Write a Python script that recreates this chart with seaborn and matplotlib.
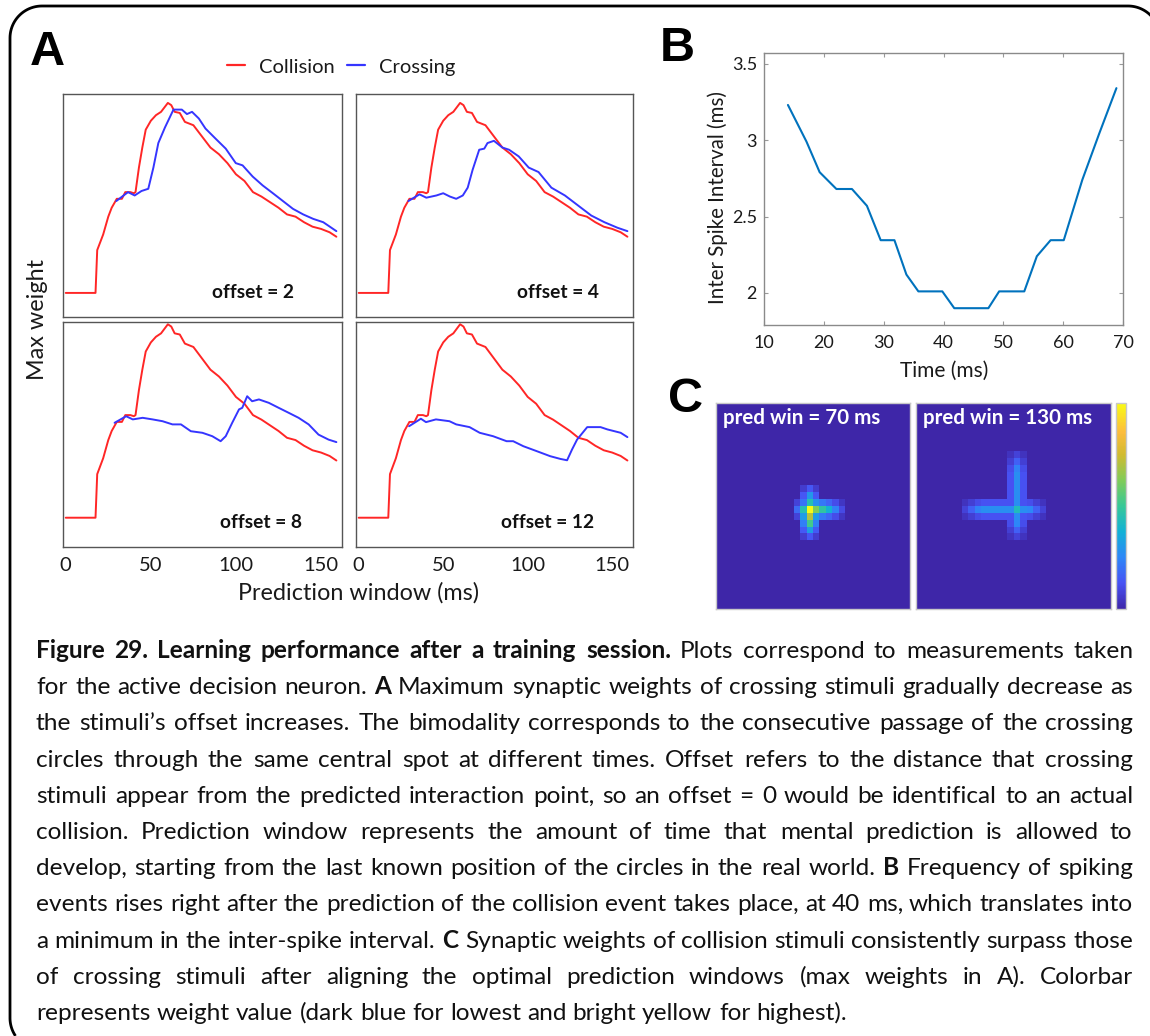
import numpy as np
import pandas as pd
import matplotlib
matplotlib.use("Agg")
import matplotlib.pyplot as plt
from matplotlib.colors import LinearSegmentedColormap, Normalize
from matplotlib.cm import ScalarMappable
from matplotlib.lines import Line2D
import seaborn as sns

# ---------------- Panel A: max synaptic weight vs prediction window ----------------
collision_t = [0, 17.5, 18.5, 20, 22, 25, 27, 30, 33, 35, 38, 40, 41, 43, 45, 47, 50, 53, 56, 60,
               62, 64, 67, 70, 75, 80, 85, 90, 95, 100, 105, 110, 115, 120, 125, 130, 135, 140,
               145, 150, 155, 159]
collision_w = [0.108, 0.108, 0.30, 0.33, 0.37, 0.45, 0.49, 0.53, 0.53, 0.56, 0.56, 0.555, 0.56,
               0.67, 0.76, 0.84, 0.88, 0.905, 0.92, 0.96, 0.95, 0.92, 0.915, 0.875, 0.86, 0.81,
               0.76, 0.73, 0.69, 0.64, 0.61, 0.56, 0.54, 0.515, 0.49, 0.46, 0.45, 0.425, 0.405,
               0.395, 0.38, 0.36]

crossing2_t = [29.7, 36.6, 40.5, 44.5, 48.5, 51.5, 54.4, 58.3, 63.3, 68.2, 71.2, 74.2, 78.2, 82.1,
               88, 94, 99.9, 103.9, 109.8, 115.7, 121.7, 127.6, 133.5, 139.5, 145.4, 151.3, 159]
crossing2_w = [0.52, 0.56, 0.545, 0.565, 0.575, 0.67, 0.78, 0.85, 0.93, 0.93, 0.91, 0.92, 0.89,
               0.845, 0.80, 0.755, 0.69, 0.68, 0.63, 0.59, 0.555, 0.52, 0.485, 0.46, 0.44, 0.425,
               0.385]

crossing4_t = [29.4, 36, 40, 46, 50, 54, 57.7, 61.6, 64.5, 67.4, 71.3, 74.3, 76.2, 80, 85, 89,
               94.7, 100.6, 106.4, 114, 122, 129.8, 137.6, 145.4, 153.2, 159]
crossing4_w = [0.52, 0.55, 0.535, 0.545, 0.555, 0.54, 0.53, 0.545, 0.58, 0.66, 0.75, 0.755, 0.78,
               0.79, 0.76, 0.75, 0.72, 0.67, 0.65, 0.58, 0.545, 0.50, 0.455, 0.425, 0.40, 0.385]

crossing8_t = [28.7, 35.5, 39.4, 45.2, 51, 56.9, 62.7, 67.7, 73.5, 80.3, 86.1, 91, 94, 97.8, 101.8,
               103.7, 106.6, 109.5, 113.5, 119.3, 125.1, 131, 136.8, 142.7, 148.5, 154.4, 159]
crossing8_w = [0.526, 0.555, 0.541, 0.548, 0.541, 0.533, 0.519, 0.519, 0.489, 0.482, 0.467, 0.445,
               0.467, 0.526, 0.585, 0.592, 0.643, 0.621, 0.629, 0.614, 0.592, 0.570, 0.548, 0.519,
               0.474, 0.452, 0.441]

crossing12_t = [29.8, 36.8, 39.8, 45.7, 53.7, 57.7, 65.6, 71.6, 79.5, 87.5, 91.4, 97.4, 105.4,
                113.3, 119.3, 123.3, 126.2, 129.2, 135.2, 143.1, 147.1, 155, 159]
crossing12_w = [0.511, 0.544, 0.529, 0.541, 0.533, 0.519, 0.507, 0.482, 0.467, 0.445, 0.445, 0.423,
                0.401, 0.379, 0.367, 0.361, 0.408, 0.452, 0.507, 0.507, 0.497, 0.482, 0.463]

offsets = [2, 4, 8, 12]
a_xticks = [0, 50, 100, 150]
legend_labels = ["Collision", "Crossing"]

# ---------------- Panel B: inter spike interval ----------------
isi_time = [14, 17.1, 19.3, 22.1, 24.7, 27.2, 29.5, 31.8, 33.8, 35.8, 39.8, 41.8, 47.5, 49.3,
            53.5, 55.6, 57.9, 60.1, 63.2, 66, 68.9]
isi_ms = [3.23, 2.99, 2.79, 2.68, 2.68, 2.57, 2.345, 2.345, 2.12, 2.01, 2.01, 1.90, 1.90, 2.01,
          2.01, 2.24, 2.345, 2.345, 2.74, 3.04, 3.34]
b_xticks = [10, 20, 30, 40, 50, 60, 70]
b_yticks = [2, 2.5, 3, 3.5]
b_yticklabels = ["2", "2.5", "3", "3.5"]

# ---------------- Panel C: synaptic weight maps (30 x 30 grid) ----------------
grid_n = 30
win70_center = (15, 14)
win70_rows = [12, 13, 14, 15, 16, 17, 18, 19]
win70_vert = [0.14, 0.30, 0.45, 1.00, 0.70, 0.52, 0.32, 0.14]
win70_cols = [12, 13, 14, 15, 16, 17, 18, 19]
win70_horz = [0.18, 0.42, 1.00, 0.62, 0.48, 0.38, 0.24, 0.10]

win130_center = (15, 15)
win130_rows = [7, 8, 9, 10, 11, 12, 13, 14, 15, 16, 17, 18, 19]
win130_vert = [0.08, 0.16, 0.24, 0.27, 0.27, 0.27, 0.27, 0.27, 0.43, 0.27, 0.25, 0.16, 0.08]
win130_cols = [7, 8, 9, 10, 11, 12, 13, 14, 15, 16, 17, 18, 19]
win130_horz = [0.08, 0.16, 0.24, 0.27, 0.27, 0.27, 0.27, 0.27, 0.43, 0.27, 0.25, 0.16, 0.08]
arm_side = 0.45
map_titles = ["pred win = 70 ms", "pred win = 130 ms"]

caption_lines = [
    [("Figure 29. Learning performance after a training session.", True),
     (" Plots correspond to measurements taken", False)],
    [("for the active decision neuron. ", False), ("A", True),
     (" Maximum synaptic weights of crossing stimuli gradually decrease as", False)],
    [("the stimuli\u2019s offset increases. The bimodality corresponds to the consecutive passage of the crossing", False)],
    [("circles through the same central spot at different times. Offset refers to the distance that crossing", False)],
    [("stimuli appear from the predicted interaction point, so an offset = 0 would be identifical to an actual", False)],
    [("collision. Prediction window represents the amount of time that mental prediction is allowed to", False)],
    [("develop, starting from the last known position of the circles in the real world. ", False),
     ("B", True), (" Frequency of spiking", False)],
    [("events rises right after the prediction of the collision event takes place, at 40 ms, which translates into", False)],
    [("a minimum in the inter-spike interval. ", False), ("C", True),
     (" Synaptic weights of collision stimuli consistently surpass those", False)],
    [("of crossing stimuli after aligning the optimal prediction windows (max weights in A). Colorbar", False)],
    [("represents weight value (dark blue for lowest and bright yellow for highest).", False)],
]

# ---------------- style ----------------
sns.set_theme(style="white")
plt.rcParams["font.family"] = ["Lato", "DejaVu Sans"]
RED = "#ff2626"
BLUE = "#3535ff"
SPINE = "#555555"
INK = "#1a1a1a"

W, H = 1150, 1036
fig = plt.figure(figsize=(W / 100, H / 100), dpi=100)


def fx(px):
    return px / W


def fy(py):
    return 1 - py / H


def axes_px(left, top, right, bottom):
    return fig.add_axes([fx(left), fy(bottom), (right - left) / W, (bottom - top) / H])


# rounded frame: only the part inside the canvas is drawn (top-right corner,
# top edge, top-left corner, left edge, bottom-left corner)
def arc(cx, cy, r, a0, a1, n=24):
    a = np.radians(np.linspace(a0, a1, n))
    return list(cx + r * np.cos(a)), list(cy - r * np.sin(a))


r_c = 32
xs, ys = [], []
ax0, ay0 = arc(1128, 6 + r_c, r_c, 43, 90)
xs += ax0; ys += ay0
ax1, ay1 = arc(10 + r_c, 6 + r_c, r_c, 90, 180)
xs += ax1; ys += ay1
ax2, ay2 = arc(10 + r_c, 1018, r_c, 180, 214)
xs += ax2; ys += ay2
fig.add_artist(Line2D([fx(v) for v in xs], [fy(v) for v in ys], color="black", lw=2.0,
                      transform=fig.transFigure, solid_capstyle="butt"))

# ---------------- Panel A ----------------
crossing = {2: (crossing2_t, crossing2_w), 4: (crossing4_t, crossing4_w),
            8: (crossing8_t, crossing8_w), 12: (crossing12_t, crossing12_w)}
frames = []
for off in offsets:
    frames.append(pd.DataFrame({"t": collision_t, "w": collision_w,
                                "stimulus": "Collision", "offset": off}))
    ct, cw = crossing[off]
    frames.append(pd.DataFrame({"t": ct, "w": cw, "stimulus": "Crossing", "offset": off}))
df_a = pd.concat(frames, ignore_index=True)

a_boxes = {2: (63, 94, 342, 317), 4: (356, 94, 633, 317),
           8: (63, 322, 342, 547), 12: (356, 322, 633, 547)}
label_x = {2: 0.68, 4: 0.73, 8: 0.71, 12: 0.69}
for off in offsets:
    ax = axes_px(*a_boxes[off])
    sns.lineplot(data=df_a[df_a["offset"] == off], x="t", y="w", hue="stimulus",
                 hue_order=legend_labels, palette={"Collision": RED, "Crossing": BLUE},
                 estimator=None, sort=False, legend=False, lw=1.4, ax=ax)
    ax.set_xlim(-1.6, 162.3)
    if off in (2, 4):
        ax.set_ylim(0, 1.0)
        ax.set_xticks([])
    else:
        ax.set_ylim(-0.021, 0.97)
        ax.set_xticks(a_xticks)
        ax.set_xticklabels([str(v) for v in a_xticks], fontsize=14.5, color=INK)
    ax.set_yticks([])
    ax.tick_params(axis="x", length=0, pad=7)
    ax.set_xlabel("")
    ax.set_ylabel("")
    for s in ax.spines.values():
        s.set_visible(True)
        s.set_color(SPINE)
        s.set_linewidth(1.0)
    ax.text(label_x[off], 0.108, f"offset = {off}", transform=ax.transAxes,
            ha="center", va="center", fontsize=13.8, fontweight="bold", color="#111111")

fig.text(fx(37), fy(319), "Max weight", rotation=90, ha="center", va="center",
         fontsize=16.8, color=INK)
fig.text(fx(358), fy(593), "Prediction window (ms)", ha="center", va="center",
         fontsize=16.8, color=INK)
handles = [Line2D([], [], color=RED, lw=1.6), Line2D([], [], color=BLUE, lw=1.6)]
fig.legend(handles, legend_labels, loc="center", bbox_to_anchor=(fx(341), fy(67)), ncol=2,
           frameon=False, fontsize=14.5, handlelength=0.9, handletextpad=0.7,
           columnspacing=0.6, labelcolor=INK)

# ---------------- Panel B ----------------
axb = axes_px(764, 53, 1123, 325)
sns.lineplot(x=isi_time, y=isi_ms, color="#0072bd", lw=1.5, ax=axb)
axb.set_xlim(10, 70)
axb.set_ylim(1.79, 3.57)
axb.set_xticks(b_xticks)
axb.set_xticklabels([str(v) for v in b_xticks], fontsize=13, color=INK)
axb.set_yticks(b_yticks)
axb.set_yticklabels(b_yticklabels, fontsize=13, color=INK)
axb.tick_params(direction="in", length=3, width=0.8, color="#999999",
                top=True, right=True, bottom=True, left=True)
axb.tick_params(axis="x", pad=7)
axb.tick_params(axis="y", pad=5)
for s in axb.spines.values():
    s.set_visible(True)
    s.set_color("#8a8a8a")
    s.set_linewidth(1.0)
fig.text(fx(718), fy(198), "Inter Spike Interval (ms)", rotation=90, ha="center",
         va="center", fontsize=14.8, color=INK)
fig.text(fx(944), fy(371), "Time (ms)", ha="center", va="center", fontsize=15,
         color=INK)

# ---------------- Panel C ----------------
parula = LinearSegmentedColormap.from_list("parula_like", [
    (0.000, (0.2422, 0.1504, 0.6603)),
    (0.125, (0.2810, 0.3228, 0.9579)),
    (0.250, (0.1786, 0.5289, 0.9682)),
    (0.375, (0.0689, 0.6948, 0.8394)),
    (0.500, (0.2161, 0.7843, 0.5923)),
    (0.625, (0.5044, 0.7993, 0.3480)),
    (0.750, (0.8185, 0.7327, 0.1882)),
    (0.860, (0.9900, 0.7400, 0.2400)),
    (1.000, (0.9769, 0.9839, 0.0805)),
])


def cross_map(center, rows, vert, cols, horz):
    z = np.zeros((grid_n, grid_n))
    r0, c0 = center
    for r, v in zip(rows, vert):
        z[r, c0] = max(z[r, c0], v)
        for dc in (-1, 1):
            z[r, c0 + dc] = max(z[r, c0 + dc], arm_side * v)
    for c, v in zip(cols, horz):
        z[r0, c] = max(z[r0, c], v)
        for dr in (-1, 1):
            z[r0 + dr, c] = max(z[r0 + dr, c], arm_side * v)
    return z


maps = [cross_map(win70_center, win70_rows, win70_vert, win70_cols, win70_horz),
        cross_map(win130_center, win130_rows, win130_vert, win130_cols, win130_horz)]
c_boxes = [(716, 403, 910, 609), (916, 403, 1111, 609)]
for z, box, title in zip(maps, c_boxes, map_titles):
    axh = axes_px(*box)
    sns.heatmap(z, ax=axh, cmap=parula, vmin=0, vmax=1, cbar=False,
                xticklabels=False, yticklabels=False)
    for s in axh.spines.values():
        s.set_visible(True)
        s.set_color("#c8c8c8")
        s.set_linewidth(1.0)
    axh.text(0.035, 0.925, title, transform=axh.transAxes, color="white",
             fontsize=14.8, fontweight="bold", ha="left", va="center")

cax = axes_px(1116, 403, 1126, 609)
cb = fig.colorbar(ScalarMappable(norm=Normalize(0, 1), cmap=parula), cax=cax)
cb.set_ticks([])
cb.outline.set_edgecolor("#c8c8c8")
cb.outline.set_linewidth(1.0)

# ---------------- panel letters ----------------
for letter, lx, ly in [("A", 30, 65), ("B", 660, 61), ("C", 668, 412)]:
    fig.text(fx(lx), fy(ly), letter, ha="left", va="baseline", fontsize=35,
             fontweight="bold", family=["Liberation Sans", "DejaVu Sans"], color="black")

# ---------------- justified caption ----------------
renderer = fig.canvas.get_renderer()
left_px, right_px = 36, 1133
base0, step = 658, 36.2


def text_width(s, bold, size):
    t = fig.text(0, 0, s, fontsize=size, fontweight="bold" if bold else "normal")
    w = t.get_window_extent(renderer=renderer).width
    t.remove()
    return w


def split_words(line):
    words = []
    for seg, bold in line:
        for wd in seg.split(" "):
            if wd:
                words.append((wd, bold))
    return words


# font size chosen so the tightest justified line keeps ordinary word spacing
probe = 12.0
probe_space = text_width("a a", False, probe) - text_width("aa", False, probe)
natural = []
for line in caption_lines[:-1]:
    words = split_words(line)
    natural.append(sum(text_width(w, b, probe) for w, b in words)
                   + probe_space * (len(words) - 1))
cap_fs = round(probe * (right_px - left_px - 4) / max(natural), 1)

space_w = text_width("a a", False, cap_fs) - text_width("aa", False, cap_fs)
for i, line in enumerate(caption_lines):
    words = split_words(line)
    widths = [text_width(wd, b, cap_fs) for wd, b in words]
    last = i == len(caption_lines) - 1
    gap = space_w if last else (right_px - left_px - sum(widths)) / (len(words) - 1)
    x = left_px
    y = round(base0 + i * step)
    for (wd, b), wdt in zip(words, widths):
        fig.text(fx(round(x)), fy(y), wd, fontsize=cap_fs,
                 fontweight="bold" if b else "normal",
                 ha="left", va="baseline", color="#111111")
        x += wdt + gap

fig.savefig("out.png", dpi=100)
